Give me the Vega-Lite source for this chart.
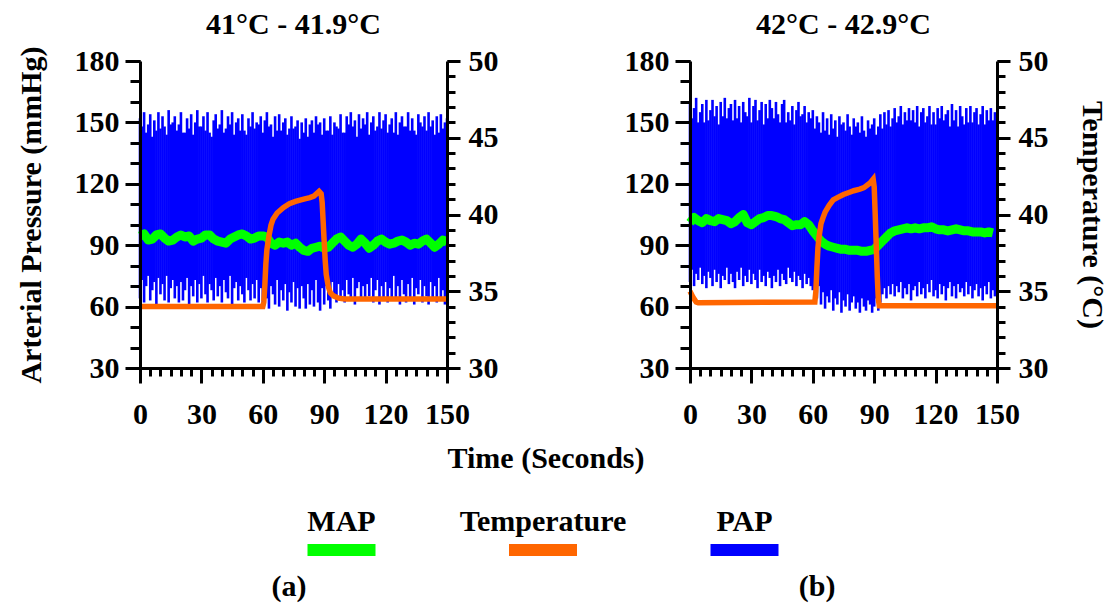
{
"$schema": "https://vega.github.io/schema/vega-lite/v6.json",
"background": "white",
"padding": {"left": 15, "top": 9, "right": 5, "bottom": 2},
"config": {
 "view": {"stroke": null},
 "font": "Liberation Serif",
 "axis": {"labelFont": "Liberation Serif", "labelFontSize": 30, "labelFontWeight": "bold", "labelColor": "#000", "titleFont": "Liberation Serif", "titleFontSize": 30, "titleFontWeight": "bold", "titleColor": "#000", "domainColor": "#000", "domainWidth": 3, "tickColor": "#000", "tickWidth": 3, "grid": false, "labelOverlap": false, "labelFlush": false},
 "title": {"font": "Liberation Serif", "fontSize": 30, "fontWeight": "bold", "color": "#000"}
},
"datasets": {
 "legend": [{"series": "MAP"}, {"series": "Temperature"}, {"series": "PAP"}],
 "panels": [{"panel": "(a)"}, {"panel": "(b)"}],
 "tempA": [{"t":0,"c":34.0},{"t":60,"c":34.0},{"t":60.5,"c":34.3},{"t":61,"c":35.4},{"t":61.5,"c":36.8},{"t":62,"c":37.7},{"t":63,"c":38.6},{"t":64,"c":39.3},{"t":65,"c":39.7},{"t":67,"c":40.1},{"t":70,"c":40.45},{"t":73,"c":40.7},{"t":76,"c":40.85},{"t":80,"c":41.0},{"t":83,"c":41.1},{"t":85,"c":41.2},{"t":87.5,"c":41.5},{"t":88.5,"c":41.35},{"t":89,"c":40.8},{"t":89.5,"c":39.5},{"t":90,"c":38.2},{"t":90.5,"c":37.0},{"t":91,"c":36.1},{"t":92,"c":35.3},{"t":93,"c":34.9},{"t":94.5,"c":34.7},{"t":97,"c":34.55},{"t":100,"c":34.5},{"t":150,"c":34.5}],
 "tempB": [{"t":0,"c":35.0},{"t":1.5,"c":34.6},{"t":3,"c":34.3},{"t":4,"c":34.25},{"t":61,"c":34.3},{"t":61.5,"c":35.0},{"t":62,"c":36.5},{"t":62.5,"c":37.8},{"t":63,"c":38.5},{"t":64,"c":39.4},{"t":65,"c":39.8},{"t":66,"c":40.15},{"t":68,"c":40.6},{"t":70,"c":40.95},{"t":72,"c":41.1},{"t":75,"c":41.3},{"t":78,"c":41.45},{"t":80,"c":41.55},{"t":83,"c":41.65},{"t":85,"c":41.75},{"t":87,"c":41.95},{"t":88,"c":42.05},{"t":89.5,"c":42.3},{"t":90,"c":41.8},{"t":90.5,"c":40.0},{"t":91,"c":38.0},{"t":91.5,"c":36.0},{"t":92,"c":34.5},{"t":92.5,"c":34.05},{"t":150,"c":34.05}],
 "mapA": [{"t":0,"v":94.5},{"t":2,"v":95.5},{"t":4,"v":92.5},{"t":6,"v":93},{"t":8,"v":95},{"t":10,"v":95.5},{"t":12,"v":93.5},{"t":14,"v":92},{"t":16,"v":92.5},{"t":18,"v":94},{"t":20,"v":95},{"t":22,"v":94},{"t":24,"v":94.5},{"t":26,"v":92},{"t":28,"v":93},{"t":30,"v":93.5},{"t":32,"v":95},{"t":34,"v":95},{"t":36,"v":93},{"t":38,"v":92},{"t":40,"v":91.5},{"t":42,"v":91},{"t":44,"v":93},{"t":46,"v":94},{"t":48,"v":95},{"t":50,"v":95.5},{"t":52,"v":94.5},{"t":54,"v":93},{"t":56,"v":93.5},{"t":58,"v":94.5},{"t":60,"v":94.5},{"t":62,"v":94},{"t":64,"v":91},{"t":66,"v":90},{"t":68,"v":91.5},{"t":70,"v":91},{"t":72,"v":91.5},{"t":74,"v":90},{"t":76,"v":91},{"t":78,"v":89},{"t":80,"v":87.5},{"t":82,"v":87},{"t":84,"v":88.5},{"t":86,"v":89},{"t":88,"v":89.5},{"t":90,"v":88.5},{"t":92,"v":89},{"t":94,"v":91},{"t":96,"v":93},{"t":98,"v":94},{"t":100,"v":92},{"t":102,"v":90},{"t":104,"v":89},{"t":106,"v":90.5},{"t":108,"v":93},{"t":110,"v":91},{"t":112,"v":88.5},{"t":114,"v":90},{"t":116,"v":92},{"t":118,"v":93},{"t":120,"v":91.5},{"t":122,"v":90.5},{"t":124,"v":91},{"t":126,"v":92},{"t":128,"v":92.5},{"t":130,"v":91.5},{"t":132,"v":90},{"t":134,"v":91},{"t":136,"v":90.5},{"t":138,"v":92},{"t":140,"v":93},{"t":142,"v":91},{"t":144,"v":89},{"t":146,"v":90.5},{"t":148,"v":92.5},{"t":150,"v":91.5}],
 "mapB": [{"t":0,"v":101},{"t":2,"v":103.5},{"t":4,"v":102},{"t":6,"v":101},{"t":8,"v":103},{"t":10,"v":102},{"t":12,"v":101.5},{"t":14,"v":103},{"t":16,"v":102.5},{"t":18,"v":102},{"t":20,"v":100.5},{"t":22,"v":101.5},{"t":24,"v":103.5},{"t":26,"v":105},{"t":28,"v":101},{"t":30,"v":100},{"t":32,"v":101.5},{"t":34,"v":103},{"t":36,"v":103.5},{"t":38,"v":104.5},{"t":40,"v":104.5},{"t":42,"v":104},{"t":44,"v":103},{"t":46,"v":102.5},{"t":48,"v":101},{"t":50,"v":99.5},{"t":52,"v":100},{"t":54,"v":100},{"t":56,"v":101.5},{"t":58,"v":100},{"t":60,"v":97},{"t":62,"v":94.5},{"t":64,"v":92},{"t":66,"v":90.5},{"t":68,"v":89.5},{"t":70,"v":89},{"t":72,"v":88.5},{"t":74,"v":88},{"t":76,"v":88},{"t":78,"v":87.5},{"t":80,"v":87.5},{"t":82,"v":87.5},{"t":84,"v":87},{"t":86,"v":87},{"t":88,"v":87.5},{"t":90,"v":88},{"t":92,"v":90},{"t":94,"v":92},{"t":96,"v":94},{"t":98,"v":96},{"t":100,"v":97},{"t":102,"v":97.5},{"t":104,"v":98},{"t":106,"v":98.5},{"t":108,"v":98},{"t":110,"v":98.5},{"t":112,"v":98},{"t":114,"v":98.5},{"t":116,"v":98.5},{"t":118,"v":99},{"t":120,"v":98},{"t":122,"v":97.5},{"t":124,"v":97.5},{"t":126,"v":97},{"t":128,"v":97.5},{"t":130,"v":98},{"t":132,"v":97.5},{"t":134,"v":97},{"t":136,"v":97},{"t":138,"v":96.5},{"t":140,"v":96.5},{"t":142,"v":96.5},{"t":144,"v":96},{"t":146,"v":96.5},{"t":148,"v":96}],
 "papA": [
{"t":0,"lo":64,"hi":152},{"t":1,"lo":73,"hi":148},{"t":2,"lo":62,"hi":155},{"t":3,"lo":70,"hi":145},{"t":4,"lo":75,"hi":149},{"t":5,"lo":63,"hi":154},{"t":6,"lo":68,"hi":143},{"t":7,"lo":72,"hi":151},{"t":8,"lo":61,"hi":146},{"t":9,"lo":74,"hi":155},
{"t":10,"lo":66,"hi":147},{"t":11,"lo":71,"hi":153},{"t":12,"lo":63,"hi":148},{"t":13,"lo":75,"hi":144},{"t":14,"lo":62,"hi":156},{"t":15,"lo":69,"hi":149},{"t":16,"lo":73,"hi":150},{"t":17,"lo":64,"hi":153},{"t":18,"lo":70,"hi":146},{"t":19,"lo":62,"hi":149},
{"t":20,"lo":72,"hi":155},{"t":21,"lo":63,"hi":145},{"t":22,"lo":68,"hi":145},{"t":23,"lo":74,"hi":152},{"t":24,"lo":61,"hi":147},{"t":25,"lo":70,"hi":154},{"t":26,"lo":65,"hi":144},{"t":27,"lo":73,"hi":150},{"t":28,"lo":62,"hi":156},{"t":29,"lo":71,"hi":148},
{"t":30,"lo":64,"hi":148},{"t":31,"lo":75,"hi":153},{"t":32,"lo":66,"hi":146},{"t":33,"lo":62,"hi":155},{"t":34,"lo":71,"hi":145},{"t":35,"lo":68,"hi":143},{"t":36,"lo":63,"hi":151},{"t":37,"lo":74,"hi":154},{"t":38,"lo":65,"hi":147},{"t":39,"lo":70,"hi":149},
{"t":40,"lo":62,"hi":156},{"t":41,"lo":73,"hi":145},{"t":42,"lo":67,"hi":147},{"t":43,"lo":64,"hi":153},{"t":44,"lo":75,"hi":149},{"t":45,"lo":61,"hi":155},{"t":46,"lo":69,"hi":144},{"t":47,"lo":72,"hi":150},{"t":48,"lo":63,"hi":152},{"t":49,"lo":70,"hi":146},
{"t":50,"lo":66,"hi":154},{"t":51,"lo":62,"hi":146},{"t":52,"lo":74,"hi":144},{"t":53,"lo":68,"hi":152},{"t":54,"lo":63,"hi":148},{"t":55,"lo":71,"hi":155},{"t":56,"lo":64,"hi":147},{"t":57,"lo":73,"hi":150},{"t":58,"lo":62,"hi":149},{"t":59,"lo":69,"hi":153},
{"t":60,"lo":60,"hi":145},{"t":61,"lo":72,"hi":151},{"t":62,"lo":64,"hi":155},{"t":63,"lo":59,"hi":148},{"t":64,"lo":70,"hi":149},{"t":65,"lo":66,"hi":143},{"t":66,"lo":61,"hi":153},{"t":67,"lo":73,"hi":146},{"t":68,"lo":60,"hi":154},{"t":69,"lo":68,"hi":146},
{"t":70,"lo":63,"hi":150},{"t":71,"lo":71,"hi":152},{"t":72,"lo":58,"hi":144},{"t":73,"lo":67,"hi":147},{"t":74,"lo":62,"hi":153},{"t":75,"lo":72,"hi":147},{"t":76,"lo":60,"hi":148},{"t":77,"lo":69,"hi":151},{"t":78,"lo":59,"hi":142},{"t":79,"lo":70,"hi":150},
{"t":80,"lo":64,"hi":145},{"t":81,"lo":59,"hi":152},{"t":82,"lo":71,"hi":143},{"t":83,"lo":61,"hi":149},{"t":84,"lo":68,"hi":151},{"t":85,"lo":60,"hi":145},{"t":86,"lo":73,"hi":153},{"t":87,"lo":62,"hi":149},{"t":88,"lo":58,"hi":150},{"t":89,"lo":69,"hi":144},
{"t":90,"lo":61,"hi":152},{"t":91,"lo":70,"hi":146},{"t":92,"lo":63,"hi":146},{"t":93,"lo":59,"hi":153},{"t":94,"lo":72,"hi":144},{"t":95,"lo":65,"hi":150},{"t":96,"lo":62,"hi":148},{"t":97,"lo":71,"hi":147},{"t":98,"lo":64,"hi":154},{"t":99,"lo":68,"hi":145},
{"t":100,"lo":62,"hi":145},{"t":101,"lo":73,"hi":153},{"t":102,"lo":66,"hi":149},{"t":103,"lo":63,"hi":155},{"t":104,"lo":74,"hi":148},{"t":105,"lo":61,"hi":151},{"t":106,"lo":69,"hi":143},{"t":107,"lo":72,"hi":154},{"t":108,"lo":64,"hi":147},{"t":109,"lo":70,"hi":152},
{"t":110,"lo":63,"hi":149},{"t":111,"lo":71,"hi":155},{"t":112,"lo":65,"hi":144},{"t":113,"lo":74,"hi":150},{"t":114,"lo":62,"hi":153},{"t":115,"lo":68,"hi":146},{"t":116,"lo":73,"hi":148},{"t":117,"lo":61,"hi":155},{"t":118,"lo":70,"hi":147},{"t":119,"lo":64,"hi":151},
{"t":120,"lo":72,"hi":154},{"t":121,"lo":62,"hi":145},{"t":122,"lo":69,"hi":149},{"t":123,"lo":64,"hi":152},{"t":124,"lo":75,"hi":145},{"t":125,"lo":63,"hi":155},{"t":126,"lo":70,"hi":144},{"t":127,"lo":61,"hi":150},{"t":128,"lo":73,"hi":153},{"t":129,"lo":66,"hi":148},
{"t":130,"lo":62,"hi":148},{"t":131,"lo":71,"hi":155},{"t":132,"lo":64,"hi":146},{"t":133,"lo":74,"hi":152},{"t":134,"lo":61,"hi":146},{"t":135,"lo":69,"hi":144},{"t":136,"lo":66,"hi":154},{"t":137,"lo":73,"hi":150},{"t":138,"lo":62,"hi":148},{"t":139,"lo":70,"hi":153},
{"t":140,"lo":65,"hi":146},{"t":141,"lo":61,"hi":155},{"t":142,"lo":72,"hi":148},{"t":143,"lo":63,"hi":151},{"t":144,"lo":70,"hi":144},{"t":145,"lo":62,"hi":153},{"t":146,"lo":74,"hi":145},{"t":147,"lo":64,"hi":154},{"t":148,"lo":68,"hi":147},{"t":149,"lo":61,"hi":150},{"t":150,"lo":66,"hi":152}],
 "papB": [
{"t":0,"lo":72,"hi":160},{"t":1,"lo":78,"hi":152},{"t":2,"lo":70,"hi":157},{"t":3,"lo":76,"hi":162},{"t":4,"lo":73,"hi":150},{"t":5,"lo":79,"hi":155},{"t":6,"lo":71,"hi":159},{"t":7,"lo":75,"hi":150},{"t":8,"lo":69,"hi":161},{"t":9,"lo":77,"hi":151},
{"t":10,"lo":74,"hi":156},{"t":11,"lo":70,"hi":161},{"t":12,"lo":78,"hi":153},{"t":13,"lo":72,"hi":158},{"t":14,"lo":76,"hi":149},{"t":15,"lo":69,"hi":160},{"t":16,"lo":75,"hi":153},{"t":17,"lo":73,"hi":162},{"t":18,"lo":79,"hi":152},{"t":19,"lo":71,"hi":157},
{"t":20,"lo":76,"hi":159},{"t":21,"lo":72,"hi":151},{"t":22,"lo":69,"hi":161},{"t":23,"lo":77,"hi":152},{"t":24,"lo":73,"hi":158},{"t":25,"lo":79,"hi":150},{"t":26,"lo":70,"hi":160},{"t":27,"lo":75,"hi":155},{"t":28,"lo":72,"hi":153},{"t":29,"lo":78,"hi":162},
{"t":30,"lo":71,"hi":150},{"t":31,"lo":76,"hi":158},{"t":32,"lo":73,"hi":161},{"t":33,"lo":69,"hi":151},{"t":34,"lo":78,"hi":156},{"t":35,"lo":72,"hi":160},{"t":36,"lo":75,"hi":149},{"t":37,"lo":70,"hi":159},{"t":38,"lo":77,"hi":152},{"t":39,"lo":74,"hi":161},
{"t":40,"lo":69,"hi":157},{"t":41,"lo":75,"hi":152},{"t":42,"lo":72,"hi":160},{"t":43,"lo":78,"hi":154},{"t":44,"lo":70,"hi":150},{"t":45,"lo":76,"hi":159},{"t":46,"lo":73,"hi":161},{"t":47,"lo":71,"hi":150},{"t":48,"lo":79,"hi":155},{"t":49,"lo":74,"hi":151},
{"t":50,"lo":72,"hi":158},{"t":51,"lo":77,"hi":149},{"t":52,"lo":70,"hi":156},{"t":53,"lo":75,"hi":160},{"t":54,"lo":73,"hi":153},{"t":55,"lo":69,"hi":154},{"t":56,"lo":76,"hi":158},{"t":57,"lo":71,"hi":150},{"t":58,"lo":74,"hi":155},{"t":59,"lo":70,"hi":152},
{"t":60,"lo":68,"hi":156},{"t":61,"lo":74,"hi":147},{"t":62,"lo":64,"hi":153},{"t":63,"lo":70,"hi":150},{"t":64,"lo":61,"hi":145},{"t":65,"lo":67,"hi":155},{"t":66,"lo":59,"hi":146},{"t":67,"lo":65,"hi":152},{"t":68,"lo":62,"hi":144},{"t":69,"lo":68,"hi":154},
{"t":70,"lo":58,"hi":147},{"t":71,"lo":64,"hi":151},{"t":72,"lo":61,"hi":143},{"t":73,"lo":67,"hi":153},{"t":74,"lo":57,"hi":149},{"t":75,"lo":63,"hi":150},{"t":76,"lo":60,"hi":146},{"t":77,"lo":66,"hi":154},{"t":78,"lo":58,"hi":148},{"t":79,"lo":62,"hi":144},
{"t":80,"lo":65,"hi":152},{"t":81,"lo":59,"hi":148},{"t":82,"lo":62,"hi":150},{"t":83,"lo":57,"hi":145},{"t":84,"lo":64,"hi":153},{"t":85,"lo":60,"hi":146},{"t":86,"lo":58,"hi":143},{"t":87,"lo":63,"hi":151},{"t":88,"lo":61,"hi":147},{"t":89,"lo":57,"hi":149},
{"t":90,"lo":60,"hi":152},{"t":91,"lo":64,"hi":144},{"t":92,"lo":58,"hi":148},{"t":93,"lo":62,"hi":154},{"t":94,"lo":66,"hi":147},{"t":95,"lo":69,"hi":155},{"t":96,"lo":64,"hi":149},{"t":97,"lo":70,"hi":156},{"t":98,"lo":66,"hi":148},{"t":99,"lo":71,"hi":152},
{"t":100,"lo":65,"hi":157},{"t":101,"lo":70,"hi":150},{"t":102,"lo":67,"hi":153},{"t":103,"lo":72,"hi":158},{"t":104,"lo":64,"hi":149},{"t":105,"lo":69,"hi":155},{"t":106,"lo":66,"hi":151},{"t":107,"lo":71,"hi":157},{"t":108,"lo":63,"hi":151},{"t":109,"lo":68,"hi":156},
{"t":110,"lo":70,"hi":150},{"t":111,"lo":65,"hi":158},{"t":112,"lo":72,"hi":148},{"t":113,"lo":66,"hi":155},{"t":114,"lo":69,"hi":157},{"t":115,"lo":64,"hi":150},{"t":116,"lo":71,"hi":153},{"t":117,"lo":67,"hi":158},{"t":118,"lo":73,"hi":149},{"t":119,"lo":65,"hi":155},
{"t":120,"lo":68,"hi":149},{"t":121,"lo":64,"hi":157},{"t":122,"lo":71,"hi":152},{"t":123,"lo":66,"hi":158},{"t":124,"lo":70,"hi":151},{"t":125,"lo":63,"hi":154},{"t":126,"lo":69,"hi":156},{"t":127,"lo":72,"hi":148},{"t":128,"lo":65,"hi":159},{"t":129,"lo":70,"hi":151},
{"t":130,"lo":64,"hi":156},{"t":131,"lo":71,"hi":148},{"t":132,"lo":67,"hi":158},{"t":133,"lo":69,"hi":153},{"t":134,"lo":65,"hi":149},{"t":135,"lo":72,"hi":157},{"t":136,"lo":66,"hi":150},{"t":137,"lo":70,"hi":158},{"t":138,"lo":64,"hi":150},{"t":139,"lo":68,"hi":155},
{"t":140,"lo":71,"hi":157},{"t":141,"lo":65,"hi":149},{"t":142,"lo":69,"hi":154},{"t":143,"lo":63,"hi":158},{"t":144,"lo":70,"hi":149},{"t":145,"lo":66,"hi":156},{"t":146,"lo":72,"hi":151},{"t":147,"lo":64,"hi":157},{"t":148,"lo":68,"hi":151},{"t":149,"lo":65,"hi":155},{"t":150,"lo":70,"hi":153}]
},
"spacing": 15,
"vconcat": [
 {
  "spacing": 126,
  "hconcat": [
   {
    "title": {"text": "41°C - 41.9°C", "frame": "group", "offset": 6},
    "width": 307, "height": 307,
    "resolve": {"scale": {"y": "independent"}, "axis": {"x": "independent", "y": "independent"}},
    "layer": [
     {"data": {"name": "papA"}, "mark": {"type": "rule", "color": "#0000FF", "strokeWidth": 2.6},
      "encoding": {
       "x": {"field": "t", "type": "quantitative", "scale": {"domain": [0, 150], "nice": false}, "axis": {"orient": "bottom", "values": [0, 30, 60, 90, 120, 150], "tickSize": 15, "labelPadding": 16, "title": null, "zindex": 2}},
       "y": {"field": "lo", "type": "quantitative", "scale": {"domain": [30, 180], "nice": false}, "axis": {"orient": "left", "values": [30, 60, 90, 120, 150, 180], "tickSize": 15, "labelPadding": 6, "title": "Arterial Pressure (mmHg)", "titlePadding": 28, "zindex": 2}},
       "y2": {"field": "hi"}}},
     {"data": {"name": "mapA"}, "mark": {"type": "line", "color": "#00FF00", "strokeWidth": 9, "strokeJoin": "round"},
      "encoding": {
       "x": {"field": "t", "type": "quantitative", "axis": {"orient": "bottom", "values": [0,5,10,15,20,25,30,35,40,45,50,55,60,65,70,75,80,85,90,95,100,105,110,115,120,125,130,135,140,145,150], "tickSize": 8, "labels": false, "domain": false, "title": null, "zindex": 2}},
       "y": {"field": "v", "type": "quantitative", "scale": {"domain": [30, 180], "nice": false}, "axis": {"orient": "left", "values": [30,40,50,60,70,80,90,100,110,120,130,140,150,160,170,180], "tickSize": 10, "labels": false, "domain": false, "title": null, "zindex": 2}}}},
     {"data": {"name": "tempA"}, "mark": {"type": "line", "opacity": 0},
      "encoding": {
       "x": {"field": "t", "type": "quantitative", "axis": null},
       "y": {"field": "c", "type": "quantitative", "scale": {"domain": [30, 50], "nice": false}, "axis": {"orient": "right", "values": [30,31,32,33,34,35,36,37,38,39,40,41,42,43,44,45,46,47,48,49,50], "tickSize": 8, "labels": false, "domain": false, "title": null, "zindex": 2}}}},
     {"data": {"name": "tempA"}, "mark": {"type": "line", "color": "#FF6600", "strokeWidth": 5.5},
      "encoding": {
       "x": {"field": "t", "type": "quantitative", "axis": null},
       "y": {"field": "c", "type": "quantitative", "scale": {"domain": [30, 50], "nice": false}, "axis": {"orient": "right", "values": [30, 35, 40, 45, 50], "tickSize": 13, "labelPadding": 8, "title": null, "zindex": 2}}}}
    ]
   },
   {
    "title": {"text": "42°C - 42.9°C", "frame": "group", "offset": 6},
    "width": 307, "height": 307,
    "resolve": {"scale": {"y": "independent"}, "axis": {"x": "independent", "y": "independent"}},
    "layer": [
     {"data": {"name": "papB"}, "mark": {"type": "rule", "color": "#0000FF", "strokeWidth": 2.6},
      "encoding": {
       "x": {"field": "t", "type": "quantitative", "scale": {"domain": [0, 150], "nice": false}, "axis": {"orient": "bottom", "values": [0, 30, 60, 90, 120, 150], "tickSize": 15, "labelPadding": 16, "title": null, "zindex": 2}},
       "y": {"field": "lo", "type": "quantitative", "scale": {"domain": [30, 180], "nice": false}, "axis": {"orient": "left", "values": [30, 60, 90, 120, 150, 180], "tickSize": 15, "labelPadding": 6, "title": null, "zindex": 2}},
       "y2": {"field": "hi"}}},
     {"data": {"name": "mapB"}, "mark": {"type": "line", "color": "#00FF00", "strokeWidth": 9, "strokeJoin": "round"},
      "encoding": {
       "x": {"field": "t", "type": "quantitative", "axis": {"orient": "bottom", "values": [0,5,10,15,20,25,30,35,40,45,50,55,60,65,70,75,80,85,90,95,100,105,110,115,120,125,130,135,140,145,150], "tickSize": 8, "labels": false, "domain": false, "title": null, "zindex": 2}},
       "y": {"field": "v", "type": "quantitative", "scale": {"domain": [30, 180], "nice": false}, "axis": {"orient": "left", "values": [30,40,50,60,70,80,90,100,110,120,130,140,150,160,170,180], "tickSize": 10, "labels": false, "domain": false, "title": null, "zindex": 2}}}},
     {"data": {"name": "tempB"}, "mark": {"type": "line", "opacity": 0},
      "encoding": {
       "x": {"field": "t", "type": "quantitative", "axis": null},
       "y": {"field": "c", "type": "quantitative", "scale": {"domain": [30, 50], "nice": false}, "axis": {"orient": "right", "values": [30,31,32,33,34,35,36,37,38,39,40,41,42,43,44,45,46,47,48,49,50], "tickSize": 8, "labels": false, "domain": false, "title": null, "zindex": 2}}}},
     {"data": {"name": "tempB"}, "mark": {"type": "line", "color": "#FF6600", "strokeWidth": 5.5},
      "encoding": {
       "x": {"field": "t", "type": "quantitative", "axis": null},
       "y": {"field": "c", "type": "quantitative", "scale": {"domain": [30, 50], "nice": false}, "axis": {"orient": "right", "values": [30, 35, 40, 45, 50], "tickSize": 13, "labelPadding": 8, "title": "Temperature (°C)", "titlePadding": 28, "zindex": 2}}}}
    ]
   }
  ]
 },
 {
  "title": {"text": "Time (Seconds)", "offset": 33, "frame": "group", "dx": 3},
  "width": 806, "height": 19,
  "data": {"name": "legend"},
  "layer": [
   {"mark": {"type": "text", "font": "Liberation Serif", "fontSize": 30, "fontWeight": "bold", "color": "#000", "baseline": "alphabetic"},
    "encoding": {
     "x": {"field": "series", "type": "nominal", "sort": ["MAP", "Temperature", "PAP"], "scale": {"type": "point", "padding": 1}, "axis": null},
     "y": {"datum": "label", "type": "nominal", "scale": {"type": "point", "domain": ["label", "swatch"], "padding": 0}, "axis": null},
     "text": {"field": "series"}}},
   {"mark": {"type": "tick", "orient": "horizontal", "size": 68, "thickness": 12, "opacity": 1},
    "encoding": {
     "x": {"field": "series", "type": "nominal", "sort": ["MAP", "Temperature", "PAP"], "axis": null},
     "y": {"datum": "swatch", "type": "nominal", "axis": null},
     "color": {"field": "series", "type": "nominal", "scale": {"domain": ["MAP", "Temperature", "PAP"], "range": ["#00FF00", "#FF6600", "#0000FF"]}, "legend": null}}}
  ]
 },
 {
  "width": 826, "height": 1,
  "data": {"name": "panels"},
  "mark": {"type": "text", "font": "Liberation Serif", "fontSize": 30, "fontWeight": "bold", "color": "#000", "baseline": "alphabetic"},
  "encoding": {
   "x": {"field": "panel", "type": "nominal", "sort": ["(a)", "(b)"], "scale": {"type": "point", "padding": 0.282}, "axis": null},
   "text": {"field": "panel"}
  }
 }
]
}
